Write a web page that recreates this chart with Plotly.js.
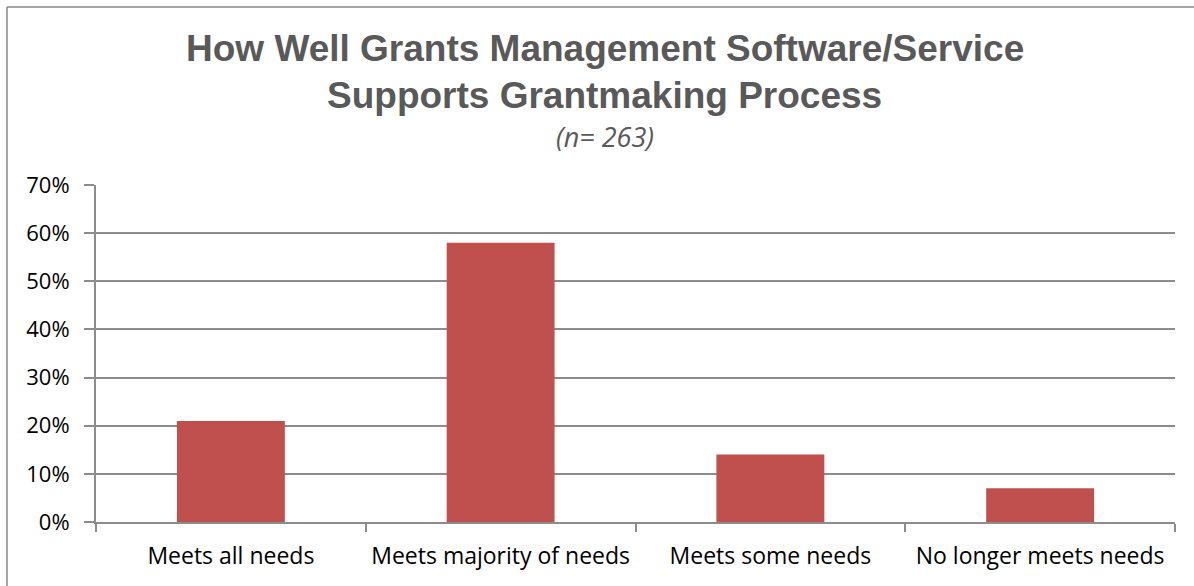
<!DOCTYPE html>
<html>
<head>
<meta charset="utf-8">
<script src="https://cdn.plot.ly/plotly-3.0.1.min.js"></script>
<style>html,body{margin:0;padding:0;background:#fff;}#chart{width:1194px;height:586px;}</style>
</head>
<body>
<div id="chart"></div>
<script>
const categories = ["Meets all needs", "Meets majority of needs", "Meets some needs", "No longer meets needs"];
const values = [21, 58, 14, 7];
const yTicks = [0, 10, 20, 30, 40, 50, 60, 70];
const titleLine1 = "How Well Grants Management Software/Service";
const titleLine2 = "Supports Grantmaking Process";
const subtitle = "(n= 263)";

const trace = {
  type: "bar",
  x: categories,
  y: values,
  width: 0.4,
  marker: {color: "#C0504D"},
  hoverinfo: "x+y"
};

const titleX = 0.4717;

const layout = {
  width: 1194,
  height: 586,
  margin: {l: 96, r: 19, t: 185, b: 64},
  paper_bgcolor: "#ffffff",
  plot_bgcolor: "#ffffff",
  showlegend: false,
  font: {family: "Open Sans, sans-serif", size: 22, color: "#000000"},
  xaxis: {
    type: "category",
    tickson: "boundaries",
    ticks: "outside",
    ticklen: 8,
    tickwidth: 2,
    tickcolor: "#8c8c8c",
    showline: true,
    linecolor: "#8c8c8c",
    linewidth: 2,
    showgrid: false,
    ticklabelstandoff: 12,
    tickfont: {family: "Open Sans, sans-serif", size: 23, color: "#000000"},
    fixedrange: true
  },
  yaxis: {
    range: [0, 70],
    tickvals: yTicks,
    ticktext: yTicks.map(v => v + "%"),
    ticks: "outside",
    ticklen: 10,
    tickwidth: 2,
    tickcolor: "#8c8c8c",
    showline: true,
    linecolor: "#8c8c8c",
    linewidth: 2,
    showgrid: true,
    gridcolor: "#8c8c8c",
    gridwidth: 2,
    zeroline: false,
    ticklabelstandoff: 10,
    tickfont: {family: "Open Sans, sans-serif", size: 22, color: "#000000"},
    fixedrange: true
  },
  annotations: [
    {text: "<b>" + titleLine1 + "</b>", xref: "paper", yref: "paper", x: titleX, y: 1, xanchor: "center", yanchor: "middle", yshift: 137,
     showarrow: false, font: {family: "Liberation Sans, Arial, sans-serif", size: 37, color: "#595959"}},
    {text: "<b>" + titleLine2 + "</b>", xref: "paper", yref: "paper", x: titleX, y: 1, xanchor: "center", yanchor: "middle", yshift: 90,
     showarrow: false, font: {family: "Liberation Sans, Arial, sans-serif", size: 37, color: "#595959"}},
    {text: "<i>" + subtitle + "</i>", xref: "paper", yref: "paper", x: titleX, y: 1, xanchor: "center", yanchor: "middle", yshift: 49,
     showarrow: false, font: {family: "Open Sans, sans-serif", size: 27, color: "#595959"}}
  ],
  shapes: [
    {type: "line", xref: "paper", yref: "paper", x0: -0.0825, x1: 1.02, y0: 1.528, y1: 1.528, line: {color: "#888888", width: 1.5}},
    {type: "line", xref: "paper", yref: "paper", x0: -0.0825, x1: -0.0825, y0: 1.528, y1: -0.2, line: {color: "#888888", width: 1.5}}
  ]
};

Plotly.newPlot("chart", [trace], layout, {displayModeBar: false, staticPlot: true});
</script>
</body>
</html>
